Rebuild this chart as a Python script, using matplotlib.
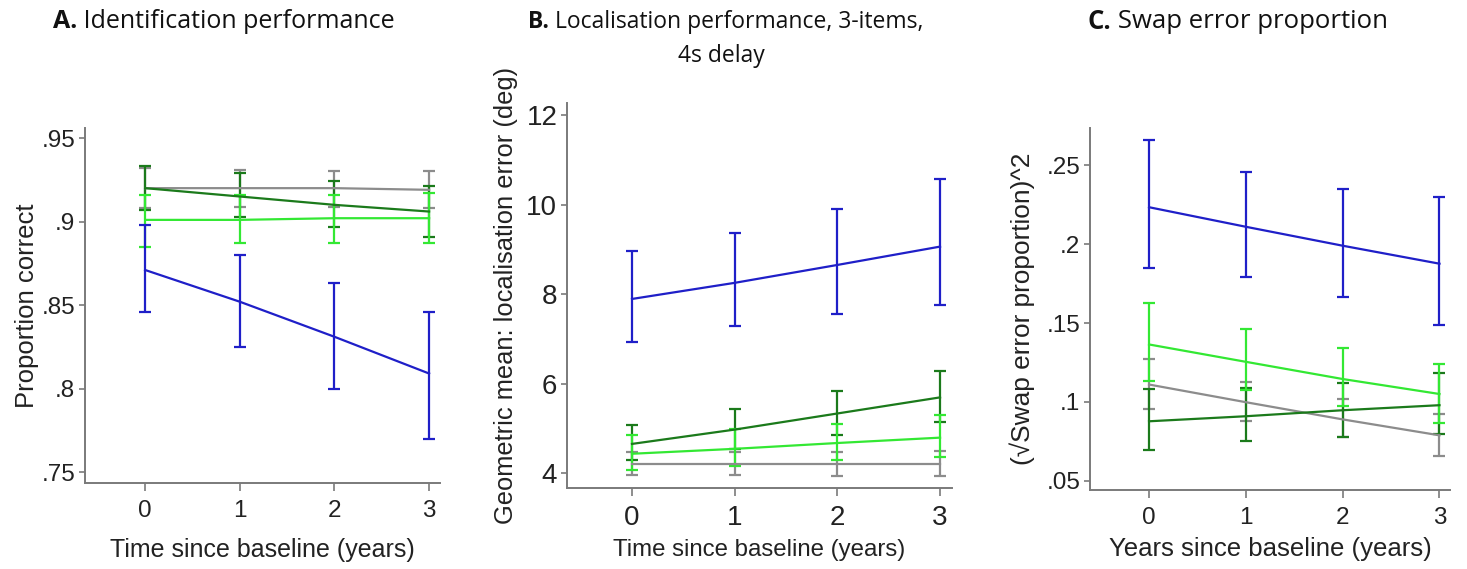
import matplotlib.pyplot as plt

years = [0, 1, 2, 3]
series = ["gray", "dkgreen", "ltgreen", "blue"]
colors = {"gray": "#8c8c8c", "dkgreen": "#1b7a1b", "ltgreen": "#33e833", "blue": "#1f1fc8"}

# A. identification performance: (mean, lower, upper)
a_mean = {"gray": [.920, .920, .920, .919], "dkgreen": [.920, .915, .910, .906],
          "ltgreen": [.901, .901, .902, .902], "blue": [.871, .852, .831, .809]}
a_lo = {"gray": [.908, .909, .909, .908], "dkgreen": [.907, .903, .897, .891],
        "ltgreen": [.885, .887, .887, .887], "blue": [.846, .825, .800, .770]}
a_hi = {"gray": [.932, .931, .930, .930], "dkgreen": [.933, .929, .924, .921],
        "ltgreen": [.916, .916, .916, .917], "blue": [.898, .880, .863, .846]}

# B. localisation error (deg)
b_mean = {"gray": [4.20, 4.20, 4.20, 4.20], "dkgreen": [4.65, 4.97, 5.33, 5.69],
          "ltgreen": [4.43, 4.54, 4.67, 4.79], "blue": [7.89, 8.25, 8.65, 9.06]}
b_lo = {"gray": [3.95, 3.95, 3.94, 3.93], "dkgreen": [4.29, 4.54, 4.85, 5.15],
        "ltgreen": [4.07, 4.15, 4.29, 4.36], "blue": [6.92, 7.28, 7.55, 7.75]}
b_hi = {"gray": [4.47, 4.47, 4.48, 4.50], "dkgreen": [5.08, 5.44, 5.84, 6.29],
        "ltgreen": [4.85, 4.98, 5.10, 5.30], "blue": [8.97, 9.37, 9.91, 10.58]}

# C. swap error proportion
c_mean = {"gray": [.111, .0998, .0889, .0788], "dkgreen": [.0877, .0909, .0947, .0979],
          "ltgreen": [.1364, .1254, .1145, .1050], "blue": [.2234, .211, .199, .1876]}
c_lo = {"gray": [.0956, .0877, .0775, .066], "dkgreen": [.0694, .0749, .0775, .0794],
        "ltgreen": [.113, .1075, .0973, .0864], "blue": [.185, .179, .1665, .149]}
c_hi = {"gray": [.1273, .1126, .1018, .0924], "dkgreen": [.1083, .1088, .112, .118],
        "ltgreen": [.1625, .146, .134, .1243], "blue": [.266, .246, .2347, .2298]}

fig = plt.figure(figsize=(14.67, 5.69), dpi=100)
sans = ["Liberation Sans", "DejaVu Sans"]
plt.rcParams["font.family"] = sans


def panel(rect, mean, lo, hi, ylim, yticks, yticklabels, ylabel, xlabel,
          tsize, xlsize, ylsize, xlim, xpad, ypad):
    ax = fig.add_axes(rect)
    for s in series:
        m = mean[s]
        err = [[m[i] - lo[s][i] for i in range(4)], [hi[s][i] - m[i] for i in range(4)]]
        ax.errorbar(years, m, yerr=err, color=colors[s], lw=1.6, elinewidth=1.6,
                    capsize=4.5, capthick=1.6)
    ax.set_xlim(xlim)
    ax.set_ylim(ylim)
    ax.set_xticks(years)
    ax.set_yticks(yticks)
    ax.set_yticklabels(yticklabels)
    for sp in ["top", "right"]:
        ax.spines[sp].set_visible(False)
    for sp in ["left", "bottom"]:
        ax.spines[sp].set_color("#7a7a7a")
        ax.spines[sp].set_linewidth(1.4)
    ax.tick_params(axis="both", colors="#7a7a7a", labelcolor="#222222",
                   labelsize=tsize, width=1.2)
    ax.tick_params(axis="x", length=6, pad=6)
    ax.tick_params(axis="y", length=4, pad=3)
    ax.set_xlabel(xlabel, fontsize=xlsize, color="#222222", labelpad=xpad)
    ax.set_ylabel(ylabel, fontsize=ylsize, color="#222222", labelpad=ypad)
    return ax


axA = panel([0.058, 0.151, 0.242, 0.624], a_mean, a_lo, a_hi, (0.7434, 0.956),
            [.75, .8, .85, .9, .95], [".75", ".8", ".85", ".9", ".95"],
            "Proportion correct", "Time since baseline (years)", 17.5, 18, 18.5,
            (-0.634, 3.116), 12, 2)
axB = panel([0.3865, 0.142, 0.2625, 0.677], b_mean, b_lo, b_hi, (3.66, 12.27),
            [4, 6, 8, 10, 12], ["4", "6", "8", "10", "12"],
            "Geometric mean: localisation error (deg)", "Time since baseline (years)",
            20, 17.3, 18.4, (-0.633, 3.117), 6, 6)
axC = panel([0.743, 0.139, 0.2455, 0.636], c_mean, c_lo, c_hi, (0.0442, 0.2736),
            [.05, .1, .15, .2, .25], [".05", ".1", ".15", ".2", ".25"],
            "(\u221aSwap error proportion)^2", "Years since baseline (years)",
            17.5, 18.5, 18.9, (-0.61, 3.11), 6, 8)

titles = [(0.036, "A.", " Identification performance", 18),
          (0.36, "B.", " Localisation performance, 3-items,", 16.5),
          (0.741, "C.", " Swap error proportion", 18.5)]
tfam = ["Open Sans", "DejaVu Sans"]
for x, lab, txt, fs in titles:
    t = fig.text(x, 0.962, lab, fontsize=fs, fontweight="bold", family=tfam,
                 va="center", ha="left", color="#111111")
    fig.canvas.draw()
    fig.text(t.get_window_extent().x1 / fig.bbox.width, 0.962, txt, fontsize=fs,
             family=tfam, va="center", ha="left", color="#111111")
fig.text(0.492, 0.902, "4s delay", fontsize=16.5, family=tfam, va="center", ha="center",
         color="#111111")

fig.savefig("out.png", dpi=100)
